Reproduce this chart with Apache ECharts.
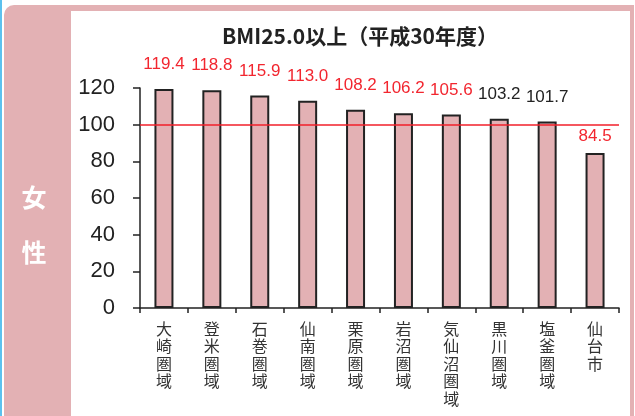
<!DOCTYPE html>
<html><head><meta charset="utf-8">
<script src="https://cdn.jsdelivr.net/npm/echarts@6/dist/echarts.min.js"></script>
<style>html,body{margin:0;padding:0;background:#fff}#c{width:635px;height:416px}</style>
</head><body><div id="c"></div>
<script>
const titleText = 'BMI25.0以上（平成30年度）';
const sideLabel = ['女', '性'];
const categories = ['大崎圏域','登米圏域','石巻圏域','仙南圏域','栗原圏域','岩沼圏域','気仙沼圏域','黒川圏域','塩釜圏域','仙台市'];
const values = [119.4,118.8,115.9,113.0,108.2,106.2,105.6,103.2,101.7,84.5];
const labelRed = [true,true,true,true,true,true,true,false,false,true];
const yTicks = [0,20,40,60,80,100,120];
const refValue = 100;

const pink = '#E3B1B4';
const chart = echarts.init(document.getElementById('c'), null, {renderer:'canvas'});
const data = values.map((v,i)=>({
  value: v,
  label: {
    color: labelRed[i] ? '#F2262F' : '#222',
    distance: i === 9 ? 8 : 16
  }
}));
chart.setOption({
  animation:false,
  graphic:[
    {type:'rect', z:-10, shape:{x:0,y:0,width:2,height:416}, style:{fill:'#5CC1EE'}},
    {type:'rect', z:-9, shape:{x:4,y:5,width:630,height:420,r:[10,0,0,0]}, style:{fill:pink}},
    {type:'rect', z:-8, shape:{x:71,y:11,width:559,height:420}, style:{fill:'#fff'}},
    {type:'text', z:5, style:{x:34,y:197,text:sideLabel[0],fill:'#fff',font:'bold 25px "Noto Sans CJK JP"',align:'center',verticalAlign:'middle'}},
    {type:'text', z:5, style:{x:34,y:252,text:sideLabel[1],fill:'#fff',font:'bold 25px "Noto Sans CJK JP"',align:'center',verticalAlign:'middle'}}
  ],
  title:{
    text:titleText, left:355, top:21, textAlign:'center',
    textStyle:{fontSize:21, fontWeight:'bold', color:'#222', fontFamily:'"Noto Sans CJK JP", sans-serif'}
  },
  grid:{left:140, right:16, top:88, bottom:108},
  xAxis:{
    type:'category', data:categories,
    axisLine:{lineStyle:{color:'#222', width:1.5}},
    axisTick:{show:true, length:5, lineStyle:{color:'#222', width:1.5}},
    axisLabel:{
      interval:0, margin:12, color:'#333', fontSize:16, lineHeight:17.5,
      fontFamily:'"Noto Sans CJK JP", sans-serif', verticalAlign:'top',
      formatter: s => s.split('').join('\n')
    }
  },
  yAxis:{
    type:'value', min:0, max:120, interval:20,
    splitLine:{show:false},
    axisLine:{show:true, lineStyle:{color:'#222', width:1.5}},
    axisTick:{show:true, length:7, lineStyle:{color:'#222', width:1.5}},
    axisLabel:{color:'#222', fontSize:22, margin:25, fontFamily:'"Liberation Sans", sans-serif',
      formatter: v => yTicks.includes(v) ? String(v) : ''}
  },
  series:[{
    type:'bar', data:data, barWidth:19,
    itemStyle:{color:pink, borderColor:'#222', borderWidth:2},
    label:{show:true, position:'top', fontSize:17, fontFamily:'"Liberation Sans", sans-serif',
      formatter: p => p.value.toFixed(1)},
    markLine:{
      silent:true, symbol:'none', label:{show:false},
      lineStyle:{color:'#F21F2A', width:1.5, type:'solid'},
      data:[{yAxis:refValue}]
    }
  }]
});
</script></body></html>
